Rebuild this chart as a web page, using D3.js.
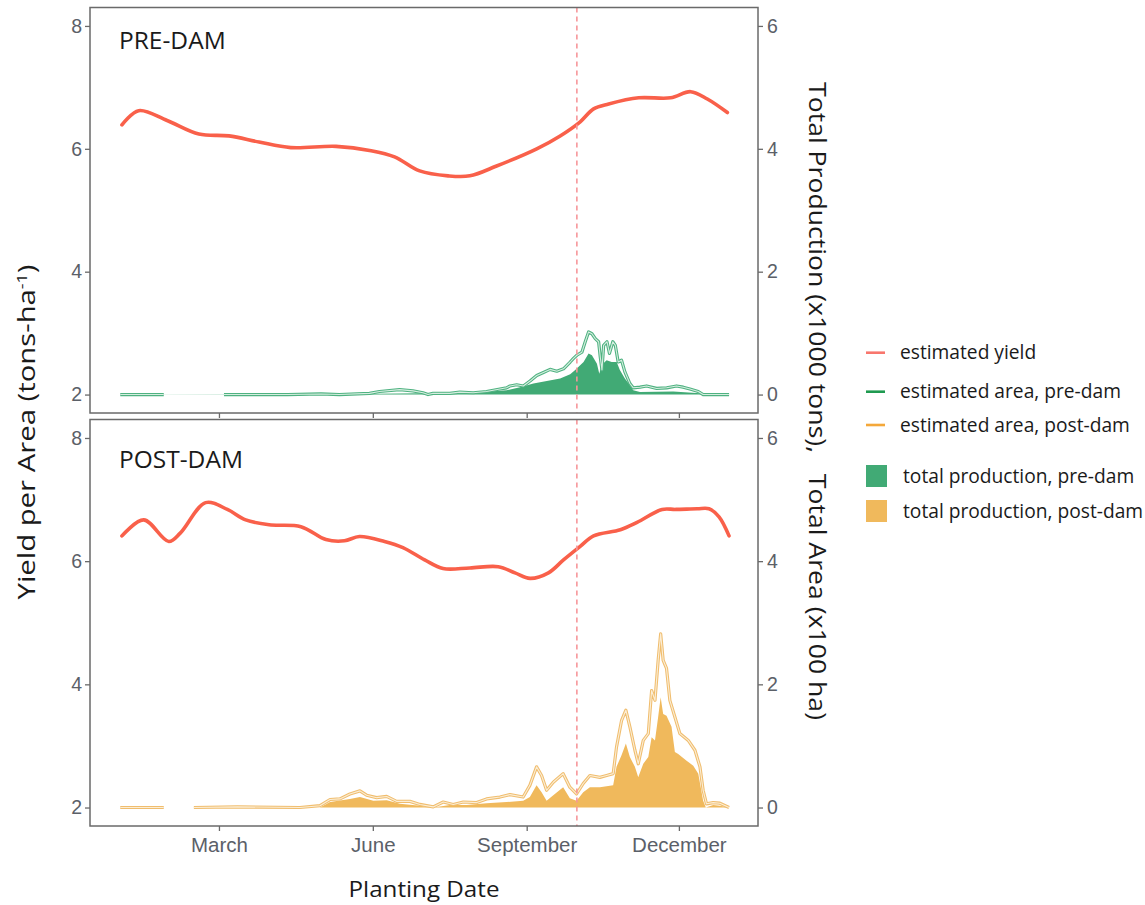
<!DOCTYPE html>
<html>
<head>
<meta charset="utf-8">
<script src="https://cdn.jsdelivr.net/npm/d3@7"></script>
<style>
  body { margin: 0; background: #fff; }
  svg { display: block; }
</style>
</head>
<body>
<div id="chart"></div>
<script>

// ---- data (day of year, 0 = Jan 1) ----

const yieldPreDays = [1, 11, 28, 47, 65, 83, 102, 129, 150, 164, 179, 196, 209, 225, 249, 263, 275, 283, 292, 310, 329, 341, 351, 363];
const yieldPre     = [6.39, 6.62, 6.46, 6.24, 6.21, 6.11, 6.02, 6.04, 5.97, 5.87, 5.64, 5.56, 5.56, 5.72, 6.00, 6.21, 6.44, 6.65, 6.73, 6.83, 6.83, 6.93, 6.81, 6.59];

const yieldPostDays = [1, 14, 29, 36, 51, 64, 75, 89, 108, 123, 134, 143, 158, 169, 182, 193, 209, 226, 236, 245, 256, 265, 275, 283, 299, 309, 324, 332, 345, 352, 358, 364];
const yieldPost     = [6.41, 6.67, 6.32, 6.46, 6.95, 6.84, 6.67, 6.59, 6.56, 6.35, 6.33, 6.40, 6.32, 6.22, 6.02, 5.88, 5.89, 5.91, 5.81, 5.72, 5.81, 6.02, 6.24, 6.41, 6.51, 6.63, 6.84, 6.84, 6.85, 6.85, 6.72, 6.41];

// estimated area (x100 ha), null = no estimate
const preAreaDays = [0, 26, 27, 62, 80, 100, 120, 131, 149, 155,
  167, 175, 181, 184, 187, 197, 203, 211, 219, 227,
  231, 233, 237, 241, 245, 249, 253, 257, 261, 265,
  269, 271, 273, 276, 278, 280, 282, 284, 286, 287,
  288, 289, 291, 292.5, 294.5, 296, 297.7, 299.7, 301.7, 304.7,
  306.7, 310.7, 314.7, 320.7, 326.7, 332.6, 336.6, 340.6, 345.6, 348.5,
  355, 364];
const preArea = [0, 0, null, 0, 0, 0, 0.01, 0, 0.02, 0.05,
  0.08, 0.06, 0.03, 0, 0.02, 0.02, 0.04, 0.03, 0.05, 0.09,
  0.11, 0.14, 0.16, 0.14, 0.22, 0.31, 0.36, 0.41, 0.38, 0.42,
  0.53, 0.59, 0.64, 0.69, 0.86, 1.02, 0.99, 0.91, 0.86, 0.61,
  0.40, 0.80, 0.86, 0.67, 0.86, 0.80, 0.53, 0.56, 0.37, 0.18,
  0.11, 0.12, 0.14, 0.10, 0.11, 0.14, 0.12, 0.09, 0.05, 0,
  0, 0];

const postAreaDays = [0, 26, 27, 44, 70, 107.4, 119.4, 125.4, 131.3, 137.3,
  143.3, 147.3, 153.3, 159.3, 165.2, 173.2, 179.2, 187.1, 193.1, 199.1,
  205.1, 213.1, 219, 227, 233, 240.9, 244.9, 248.9, 251.9, 254.9,
  258.9, 264.8, 268.8, 272.8, 276.8, 280.8, 286.8, 290.8, 294.7, 296.7,
  299.7, 302.3, 304.7, 307.7, 309.7, 312.7, 315.7, 317.7, 319.7, 321.6,
  323.1, 324.6, 326.6, 328.6, 331.6, 334.6, 339.6, 343.6, 346.6, 348.5,
  350.5, 354.5, 358.5, 364];
const postArea = [0, 0, null, 0, 0.01, 0, 0.03, 0.13, 0.14, 0.22,
  0.27, 0.20, 0.16, 0.18, 0.10, 0.10, 0.05, 0.01, 0.09, 0.05,
  0.09, 0.08, 0.14, 0.17, 0.21, 0.17, 0.36, 0.66, 0.52, 0.28,
  0.41, 0.55, 0.33, 0.22, 0.39, 0.52, 0.49, 0.52, 0.55, 0.98,
  1.41, 1.58, 1.31, 0.93, 0.71, 1.09, 1.20, 1.90, 1.74, 2.39,
  2.82, 2.39, 2.26, 1.74, 1.47, 1.20, 1.09, 0.93, 0.66, 0.28,
  0.06, 0.08, 0.07, 0];

// total production (x1000 tons)
const preProdDays = [0, 140, 180, 210, 231, 239, 247, 255, 263, 269,
  272, 277, 280, 282, 285, 286.4, 287.8, 290.8, 293.8, 296.8,
  298.7, 301.7, 304.7, 306.7, 310.7, 330.6, 346.6, 364];
const preProd = [0, 0.01, 0.02, 0.03, 0.07, 0.12, 0.18, 0.22, 0.26, 0.33,
  0.40, 0.53, 0.67, 0.64, 0.50, 0.34, 0.48, 0.56, 0.53, 0.53,
  0.40, 0.26, 0.15, 0.07, 0.04, 0.05, 0.02, 0];

const postProdDays = [0, 119.4, 125.4, 137.3, 143.3, 151.3, 159.3, 167.2, 179.2, 187.1,
  197.1, 207.1, 219, 231, 240.9, 244.9, 248.9, 251.9, 254.9, 258.9,
  264.8, 268.8, 272.8, 276.8, 280.8, 286.8, 294.7, 296.7, 299.7, 302.3,
  304.7, 307.7, 309.7, 312.7, 315.7, 317.7, 319.7, 321.6, 323.1, 324.6,
  326.6, 329.6, 331.6, 333.6, 338.6, 342.6, 345.6, 348.5, 350.1, 354.5,
  358.5, 364];
const postProd = [0, 0, 0.09, 0.14, 0.17, 0.11, 0.12, 0.06, 0.03, 0,
  0.04, 0.04, 0.07, 0.09, 0.11, 0.17, 0.36, 0.25, 0.11, 0.20,
  0.33, 0.15, 0.11, 0.25, 0.33, 0.33, 0.36, 0.66, 0.85, 1.04,
  0.82, 0.66, 0.49, 0.71, 0.82, 1.14, 1.09, 1.47, 1.79, 1.52,
  1.49, 1.31, 0.90, 0.87, 0.76, 0.68, 0.55, 0.11, 0, 0.04,
  0.03, 0];

const panelLabels = ["PRE-DAM", "POST-DAM"];
const leftTicks = [2, 4, 6, 8];
const rightTicks = [0, 2, 4, 6];
const monthTicks = [2, 5, 8, 11];   // March, June, September, December
const damDay = 273;                 // Oct 1
const legendLabels = ["estimated yield", "estimated area, pre-dam", "estimated area, post-dam",
                      "total production, pre-dam", "total production, post-dam"];

// ---- setup ----

const width = 1145, height = 905;
const plotLeft = 90, plotRight = 758;
const tickFont = "'Liberation Sans', Arial, sans-serif";
const titleFont = "'Open Sans', 'Noto Sans', sans-serif";

const col = {
    yield: "#f9604a",
    preFill: "#41aa75", preLine: "#4fb281", preCore: "#d6eee0",
    postFill: "#f0b95c", postLine: "#f0bd6e", postCore: "#fbeed6",
    dam: "#f7969a"
};

const toDate = d => new Date(new Date(2001, 0, 1).getTime() + d * 864e5);
const zip = (days, vals) => days.map((d, i) => ({date: toDate(d), v: vals[i]}));

const x = d3.scaleTime()
    .domain([toDate(-18.1), toDate(381.3)])
    .range([plotLeft, plotRight]);

const svg = d3.select("#chart").append("svg")
    .attr("width", width).attr("height", height);

const panels = [
    {top: 7.5, bottom: 413, yld: zip(yieldPreDays, yieldPre), area: zip(preAreaDays, preArea),
     prod: zip(preProdDays, preProd), fill: col.preFill, line: col.preLine, core: col.preCore},
    {top: 419.5, bottom: 826, yld: zip(yieldPostDays, yieldPost), area: zip(postAreaDays, postArea),
     prod: zip(postProdDays, postProd), fill: col.postFill, line: col.postLine, core: col.postCore}
];

panels.forEach((p, i) => {
    const yL = d3.scaleLinear().domain([1.7, 8.3]).range([p.bottom, p.top]);
    const yR = d3.scaleLinear().domain([-0.3, 6.3]).range([p.bottom, p.top]);
    const g = svg.append("g");

    // production fill
    const area = d3.area()
        .x(d => x(d.date)).y0(yR(0)).y1(d => yR(d.v));
    g.append("path").datum(p.prod)
        .attr("d", area).attr("fill", p.fill);

    // estimated area line (hollow look)
    const aLine = d3.line().defined(d => d.v != null)
        .x(d => x(d.date)).y(d => yR(d.v));
    g.append("path").datum(p.area)
        .attr("d", aLine).attr("fill", "none")
        .attr("stroke", p.line).attr("stroke-width", 3.2).attr("stroke-linejoin", "round");
    g.append("path").datum(p.area)
        .attr("d", aLine).attr("fill", "none")
        .attr("stroke", p.core).attr("stroke-width", 1.1).attr("stroke-linejoin", "round");

    // yield line
    const yLine = d3.line().curve(d3.curveCatmullRom.alpha(0.5))
        .x(d => x(d.date)).y(d => yL(d.v));
    g.append("path").datum(p.yld)
        .attr("d", yLine).attr("fill", "none")
        .attr("stroke", col.yield).attr("stroke-width", 3.6).attr("stroke-linecap", "round");

    // dam line
    g.append("line")
        .attr("x1", x(toDate(damDay))).attr("x2", x(toDate(damDay)))
        .attr("y1", p.top).attr("y2", p.bottom)
        .attr("stroke", col.dam).attr("stroke-width", 1.6).attr("stroke-dasharray", "5,4");

    // border
    g.append("rect")
        .attr("x", plotLeft).attr("y", p.top)
        .attr("width", plotRight - plotLeft).attr("height", p.bottom - p.top)
        .attr("fill", "none").attr("stroke", "#6a6a6a").attr("stroke-width", 1.5);

    // axes
    const left = g.append("g").attr("transform", `translate(${plotLeft},0)`)
        .call(d3.axisLeft(yL).tickValues(leftTicks).tickFormat(d3.format("d"))
            .tickSize(5).tickPadding(3));
    const right = g.append("g").attr("transform", `translate(${plotRight},0)`)
        .call(d3.axisRight(yR).tickValues(rightTicks).tickFormat(d3.format("d"))
            .tickSize(5).tickPadding(4));
    const bottom = g.append("g").attr("transform", `translate(0,${p.bottom})`)
        .call(d3.axisBottom(x)
            .tickValues(monthTicks.map(m => new Date(2001, m, 1)))
            .tickFormat(i == 1 ? d3.timeFormat("%B") : "")
            .tickSize(5).tickPadding(6));

    [left, right, bottom].forEach(a => {
        a.select(".domain").remove();
        a.selectAll("line").attr("stroke", "#6a6a6a").attr("stroke-width", 1.3);
        a.selectAll("text").attr("fill", "#5b6068")
            .attr("font-family", tickFont).attr("font-size", 19.5);
    });
    bottom.selectAll("text").attr("font-size", 20.5);

    // panel label
    g.append("text")
        .attr("x", 119).attr("y", i == 0 ? 49 : 468)
        .attr("font-family", titleFont).attr("font-size", 24.5)
        .attr("fill", "#1a1a1a")
        .text(panelLabels[i]);
});

// ---- axis titles ----

svg.append("text")
    .attr("x", (plotLeft + plotRight) / 2).attr("y", 897)
    .attr("text-anchor", "middle")
    .attr("font-family", titleFont).attr("font-size", 21).attr("fill", "#1a1a1a")
    .attr("textLength", 151).attr("lengthAdjust", "spacingAndGlyphs")
    .text("Planting Date");

const ltitle = svg.append("text")
    .attr("transform", "translate(35,432) rotate(-90)")
    .attr("text-anchor", "middle")
    .attr("font-family", titleFont).attr("font-size", 23).attr("fill", "#1a1a1a")
    .attr("textLength", 335).attr("lengthAdjust", "spacingAndGlyphs");
ltitle.append("tspan").text("Yield per Area (tons-ha");
ltitle.append("tspan").attr("dy", -8).attr("font-size", 14).text("-1");
ltitle.append("tspan").attr("dy", 8).text(")");

svg.append("text")
    .attr("transform", "translate(809,401) rotate(90)")
    .attr("text-anchor", "middle")
    .attr("font-family", titleFont).attr("font-size", 23).attr("fill", "#1a1a1a")
    .attr("textLength", 638).attr("lengthAdjust", "spacingAndGlyphs")
    .style("white-space", "pre")
    .text("Total Production (x1000 tons),   Total Area (x100 ha)");

// ---- legend ----

const legendY = [352.7, 391.7, 425, 476, 511];
const legendMark = [
    {type: "line", color: "#f8766d"},
    {type: "line", color: "#1f9a50"},
    {type: "line", color: "#f4a83a"},
    {type: "rect", color: "#41aa75"},
    {type: "rect", color: "#f0b95c"}
];

const legend = svg.append("g");
legendMark.forEach((m, i) => {
    const y = legendY[i];
    if (m.type == "line") {
        legend.append("line")
            .attr("x1", 866).attr("x2", 885).attr("y1", y).attr("y2", y)
            .attr("stroke", m.color).attr("stroke-width", 2.6);
    } else {
        legend.append("rect")
            .attr("x", 866).attr("y", y - 11).attr("width", 21).attr("height", 22)
            .attr("fill", m.color);
    }
    legend.append("text")
        .attr("x", m.type == "line" ? 900 : 903).attr("y", y + 6.5)
        .attr("font-family", titleFont).attr("font-size", 19.2).attr("fill", "#1a1a1a")
        .text(legendLabels[i]);
});

</script>
</body>
</html>
